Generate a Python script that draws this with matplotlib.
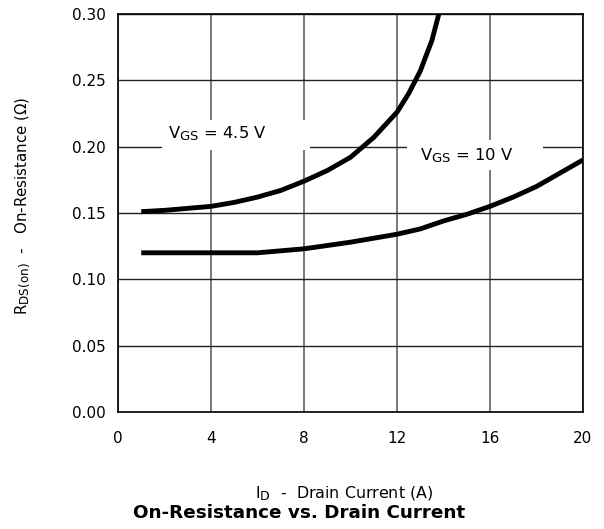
import matplotlib
matplotlib.use("Agg")
import matplotlib.pyplot as plt
from matplotlib.patches import Rectangle
import matplotlib._mathtext as _mt

_mt.SHRINK_FACTOR = 0.8

plt.rcParams['font.family'] = ['DejaVu Sans']
plt.rcParams['mathtext.fontset'] = 'dejavusans'

# V_GS = 4.5 V curve
id_45 = [1, 2, 4, 5, 6, 7, 8, 9, 10, 11, 12, 12.5, 13, 13.5, 13.8]
r_45 = [0.151, 0.152, 0.155, 0.158, 0.162, 0.167, 0.174, 0.182, 0.192, 0.207, 0.226, 0.240, 0.257, 0.280, 0.300]
# V_GS = 10 V curve
id_10 = [1, 2, 4, 6, 8, 10, 12, 13, 14, 15, 16, 17, 18, 19, 20]
r_10 = [0.120, 0.120, 0.120, 0.120, 0.123, 0.128, 0.134, 0.138, 0.144, 0.149, 0.155, 0.162, 0.170, 0.180, 0.190]

xticks = [0, 4, 8, 12, 16, 20]
yticks = [0.00, 0.05, 0.10, 0.15, 0.20, 0.25, 0.30]

fig = plt.figure(figsize=(6.04, 5.29), dpi=100)
ax = fig.add_axes([118/604, 1-412/529, (583-118)/604, (412-14)/529])

ax.set_xlim(0, 20)
ax.set_ylim(0, 0.30)
ax.set_xticks(xticks)
ax.set_yticks(yticks)
ax.set_xticklabels([str(t) for t in xticks], fontsize=11)
ax.set_yticklabels([f"{t:.2f}" for t in yticks], fontsize=11)
ax.tick_params(axis='y', length=0, pad=9)
ax.tick_params(axis='x', length=0, pad=14)
ax.grid(True, axis='x', color='#555555', linewidth=1.1)
ax.grid(True, axis='y', color='#222222', linewidth=1.0)
ax.set_axisbelow(True)
for s in ax.spines.values():
    s.set_color('black')
    s.set_linewidth(1.2)

ax.plot(id_45, r_45, color='black', linewidth=3.5, solid_capstyle='butt', zorder=3)
ax.plot(id_10, r_10, color='black', linewidth=3.5, solid_capstyle='butt', zorder=3)

# white label backgrounds that interrupt the grid
ax.add_patch(Rectangle((1.89, 0.1975), 8.26 - 1.89, 0.2201 - 0.1975, facecolor='white',
                       edgecolor='none', zorder=1.5))
ax.add_patch(Rectangle((12.43, 0.1824), 18.28 - 12.43, 0.205 - 0.1824, facecolor='white',
                       edgecolor='none', zorder=1.5))

ax.text(4.27, 0.2095, r'V$_{\mathregular{GS}}$ = 4.5 V', ha='center', va='center', fontsize=11.8, zorder=2)
ax.text(15.0, 0.1935, r'V$_{\mathregular{GS}}$ = 10 V', ha='center', va='center', fontsize=11.8, zorder=2)

fig.text(23/604, 1-206/529, r'R$_{\mathregular{DS(on)}}$  -   On-Resistance ($\Omega$)', rotation=90,
         ha='center', va='center', fontsize=10.8)
fig.text(344/604, 1-494/529, r'I$_{\mathregular{D}}$  -  Drain Current (A)', ha='center', va='center', fontsize=11.4)
fig.text(299/604, 1-513/529, 'On-Resistance vs. Drain Current', ha='center', va='center',
         fontsize=13.2, fontweight='bold')

fig.savefig('out.png', dpi=100)
